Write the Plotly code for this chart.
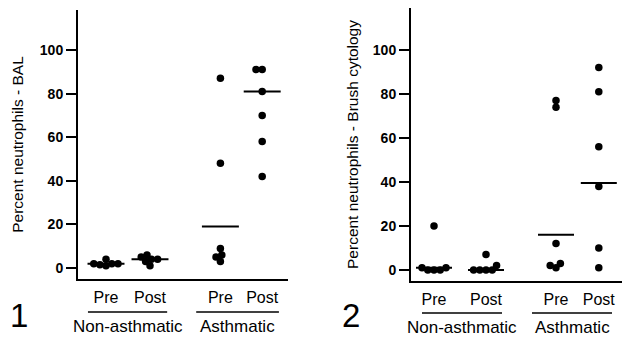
import math
import plotly.graph_objects as go

# ---------------- data ----------------
conditions = ["Pre", "Post", "Pre", "Post"]
group_names = ["Non-asthmatic", "Asthmatic"]
y_ticks = [0, 20, 40, 60, 80, 100]

bal_na_pre = [2, 2, 1, 1.5, 2, 4]
bal_na_post = [5, 4, 6, 1, 3, 4]
bal_a_pre = [87, 48, 9, 6, 5, 3]
bal_a_post = [91, 91, 81, 70, 58, 42]
bal_lines = [2, 4, 19, 81]

brush_na_pre = [20, 1, 1, 0, 0, 0]
brush_na_post = [7, 2, 0, 0, 0, 0]
brush_a_pre = [77, 74, 12, 3, 2, 1]
brush_a_post = [92, 81, 56, 38, 10, 1]
brush_lines = [1, 0, 16, 39.5]

W, H = 622, 337
FONT = "Liberation Sans, Arial, sans-serif"
DOT = 7.5
GAP = 6.2


def beeswarm(values, x_px_per_unit, y_px_per_unit, d=GAP):
    """Return horizontal offsets (axis units) so dots don't overlap too much."""
    placed = []  # (x_px, y_px)
    order = sorted(range(len(values)), key=lambda i: values[i])
    offs = [0.0] * len(values)
    for i in order:
        y = values[i] * y_px_per_unit
        cands = [0.0]
        for (px, py) in placed:
            dy = abs(py - y)
            if dy < d:
                dx = math.sqrt(d * d - dy * dy)
                cands += [px - dx, px + dx]
        best = None
        for c in sorted(cands, key=lambda c: (abs(c), c)):
            ok = all((c - px) ** 2 + (y - py) ** 2 >= d * d - 1e-6 for px, py in placed)
            if ok:
                best = c
                break
        placed.append((best, y))
        offs[i] = best / x_px_per_unit
    return offs


panels = [
    dict(data=[bal_na_pre, bal_na_post, bal_a_pre, bal_a_post], lines=bal_lines,
         title="Percent neutrophils - BAL",
         px0=78, px1=288, py_bottom=279, py_top=10, y_zero_px=268, y_px=2.18,
         pos=[1.0, 2.0, 3.6, 4.55], x_zero_px=62, x_px=44, half=0.42,
         under=[(0.59, 2.39), (3.05, 4.93)], under_y=312, label_y=326,
         num="1", num_x=19, num_y=315, standoff=12),
    dict(data=[brush_na_pre, brush_na_post, brush_a_pre, brush_a_post], lines=brush_lines,
         title="Percent neutrophils - Brush cytology",
         px0=411, px1=622, py_bottom=281, py_top=8, y_zero_px=270, y_px=2.2,
         pos=[0.8, 2.1, 3.85, 4.92], x_zero_px=402, x_px=40, half=0.45,
         under=[(0.5, 2.5), (3.25, 5.25)], under_y=313, label_y=327,
         num="2", num_x=351, num_y=315, standoff=10),
]

fig = go.Figure()
layout = dict(width=W, height=H, margin=dict(l=0, r=0, t=0, b=0),
              paper_bgcolor="white", plot_bgcolor="white", showlegend=False,
              font=dict(family=FONT, color="black"))
shapes, annotations = [], []

for k, p in enumerate(panels):
    xa = "x" if k == 0 else "x2"
    ya = "y" if k == 0 else "y2"
    xr0 = (p["px0"] - p["x_zero_px"]) / p["x_px"]
    xr1 = (p["px1"] - p["x_zero_px"]) / p["x_px"]
    yr0 = -(p["py_bottom"] - p["y_zero_px"]) / p["y_px"]
    yr1 = (p["y_zero_px"] - p["py_top"]) / p["y_px"]

    xs, ys = [], []
    for g, vals in enumerate(p["data"]):
        offs = beeswarm(vals, p["x_px"], p["y_px"])
        xs += [p["pos"][g] + o for o in offs]
        ys += list(vals)
    fig.add_trace(go.Scatter(x=xs, y=ys, mode="markers", xaxis=xa, yaxis=ya,
                             marker=dict(color="black", size=DOT, line=dict(width=0)),
                             hoverinfo="skip", cliponaxis=False))
    lx, ly = [], []
    for g, v in enumerate(p["lines"]):
        lx += [p["pos"][g] - p["half"], p["pos"][g] + p["half"], None]
        ly += [v, v, None]
    fig.add_trace(go.Scatter(x=lx, y=ly, mode="lines", xaxis=xa, yaxis=ya,
                             line=dict(color="black", width=2), hoverinfo="skip"))

    suffix = "" if k == 0 else "2"
    layout["xaxis" + suffix] = dict(
        domain=[p["px0"] / W, p["px1"] / W], range=[xr0, xr1], anchor=ya,
        showline=True, linecolor="black", linewidth=2, showgrid=False, zeroline=False,
        ticks="", tickvals=p["pos"], ticktext=conditions, ticklabelstandoff=3,
        tickfont=dict(size=16, family=FONT, color="black"))
    layout["yaxis" + suffix] = dict(
        domain=[(H - p["py_bottom"]) / H, (H - p["py_top"]) / H], range=[yr0, yr1],
        anchor=xa, showline=True, linecolor="black", linewidth=2, showgrid=False,
        zeroline=False, ticks="outside", ticklen=10, tickwidth=1.5, tickcolor="black",
        tickvals=y_ticks, ticklabelstandoff=0,
        tickfont=dict(size=14, family=FONT, color="black", weight="bold"),
        title=dict(text=p["title"], standoff=p["standoff"],
                   font=dict(size=15.5, family=FONT, color="black")))

    for gi, (a, b) in enumerate(p["under"]):
        shapes.append(dict(type="line", xref=xa, yref="paper", x0=a, x1=b,
                           y0=(H - p["under_y"]) / H, y1=(H - p["under_y"]) / H,
                           line=dict(color="black", width=1.5)))
        annotations.append(dict(x=(a + b) / 2, xref=xa, y=(H - p["label_y"]) / H, yref="paper",
                                text=group_names[gi], showarrow=False, yanchor="middle",
                                font=dict(size=17, family=FONT, color="black")))
    annotations.append(dict(x=p["num_x"] / W, y=(H - p["num_y"]) / H, xref="paper", yref="paper",
                            text=p["num"], showarrow=False, xanchor="center", yanchor="middle",
                            font=dict(size=33, family=FONT, color="black")))

layout["shapes"] = shapes
layout["annotations"] = annotations
fig.update_layout(**layout)
fig.write_html("out.html", config={"displayModeBar": False},
               post_script="document.body.style.margin='0';document.body.style.padding='0';")
